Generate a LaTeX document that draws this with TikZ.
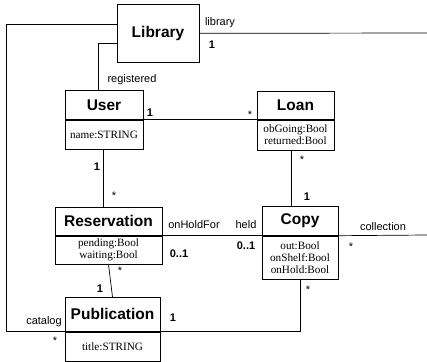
\documentclass[tikz,border=0pt]{standalone}
\usepackage{fontspec}
\setmainfont{Liberation Serif}
\setsansfont{Liberation Sans}
\usetikzlibrary{positioning}

\tikzset{
  cname/.style={draw, anchor=north, inner sep=0pt,
    font=\sffamily\bfseries\fontsize{15.5}{17}\selectfont},
  cattr/.style={draw, inner sep=0pt, align=center,
    font=\fontsize{11.2}{11.8}\selectfont},
  role/.style={font=\sffamily\fontsize{11}{12}\selectfont, inner sep=0pt},
  mult/.style={font=\sffamily\bfseries\fontsize{11}{12}\selectfont, inner sep=0pt},
  many/.style={font=\sffamily\fontsize{11}{12}\selectfont, inner sep=0pt}
}

\begin{document}
\begin{tikzpicture}[x=1pt, y=-1pt, line width=0.7pt]
\useasboundingbox (0,0) rectangle (427,361);

% classes
\node[cname, minimum width=82pt, minimum height=58pt] (library) at (158,4) {Library};

\node[cname, minimum width=78pt, minimum height=29pt] (user) at (104,90) {User};
\node[cattr, minimum width=78pt, minimum height=29pt, below=0pt of user] (userattr) {name:STRING};

\node[cname, minimum width=77pt, minimum height=28pt] (loan) at (295.5,91) {Loan};
\node[cattr, minimum width=77pt, minimum height=30pt, below=0pt of loan] (loanattr) {obGoing:Bool\\returned:Bool};

\node[cname, minimum width=107pt, minimum height=28pt] (reserv) at (108.5,207) {Reservation};
\node[cattr, minimum width=107pt, minimum height=28pt, below=0pt of reserv] (reservattr) {pending:Bool\\waiting:Bool};

\node[cname, minimum width=76pt, minimum height=29pt] (copy) at (300,206) {Copy};
\node[cattr, minimum width=76pt, minimum height=43pt, below=0pt of copy] (copyattr) {out:Bool\\onShelf:Bool\\onHold:Bool};

\node[cname, minimum width=95pt, minimum height=34pt] (pub) at (112.5,297) {Publication};
\node[cattr, minimum width=95pt, minimum height=29pt, below=0pt of pub] (pubattr) {title:STRING};

% loose ends
\coordinate (libend) at (427,33);
\coordinate (colend) at (427,235);

% associations
\draw (library.east) -- (libend);
\draw ([yshift=9pt]library.west) -- ++(-110,0) |- (pub.south west);
\draw ([yshift=-10pt]library.west) -| ([xshift=-6pt]user.north);
\draw (user.south east) -- (loan.south west);
\draw ([xshift=-4pt]loanattr.south) -- ([xshift=-4pt]loanattr.south |- copy.north);
\draw ([xshift=-1pt]userattr.south) -- ([xshift=-1pt]userattr.south |- reserv.north);
\draw (reserv.south east) -- (copy.south west);
\draw (reservattr.south) -- (pub.north);
\draw (copy.south east) -- (colend);
\draw (copyattr.south) |- (pub.south east);

% roles and multiplicities
\node[role] (r1) at (220,23) {library};
\node[mult] (m1) at (212,45) {1};
\node[role] (r2) at (132,80) {registered};
\node[mult] (m2) at (150,113) {1};
\node[many] (m3) at (250,115) {*};
\node[many] (m4) at (302,160) {*};
\node[mult] (m5) at (307,197) {1};
\node[mult] (m6) at (97,167) {1};
\node[many] (m7) at (114,196) {*};
\node[role] (r3) at (194,225) {onHoldFor};
\node[mult] (m8) at (179,254) {0..1};
\node[role] (r4) at (246,225) {held};
\node[mult] (m9) at (246,246) {0..1};
\node[role] (r5) at (383,227) {collection};
\node[many] (m10) at (351,247) {*};
\node[many] (m11) at (120,271) {*};
\node[mult] (m12) at (100,289) {1};
\node[role] (r6) at (44,322) {catalog};
\node[many] (m13) at (55,341) {*};
\node[mult] (m14) at (173,318) {1};
\node[many] (m15) at (308,290) {*};
\end{tikzpicture}
\end{document}
